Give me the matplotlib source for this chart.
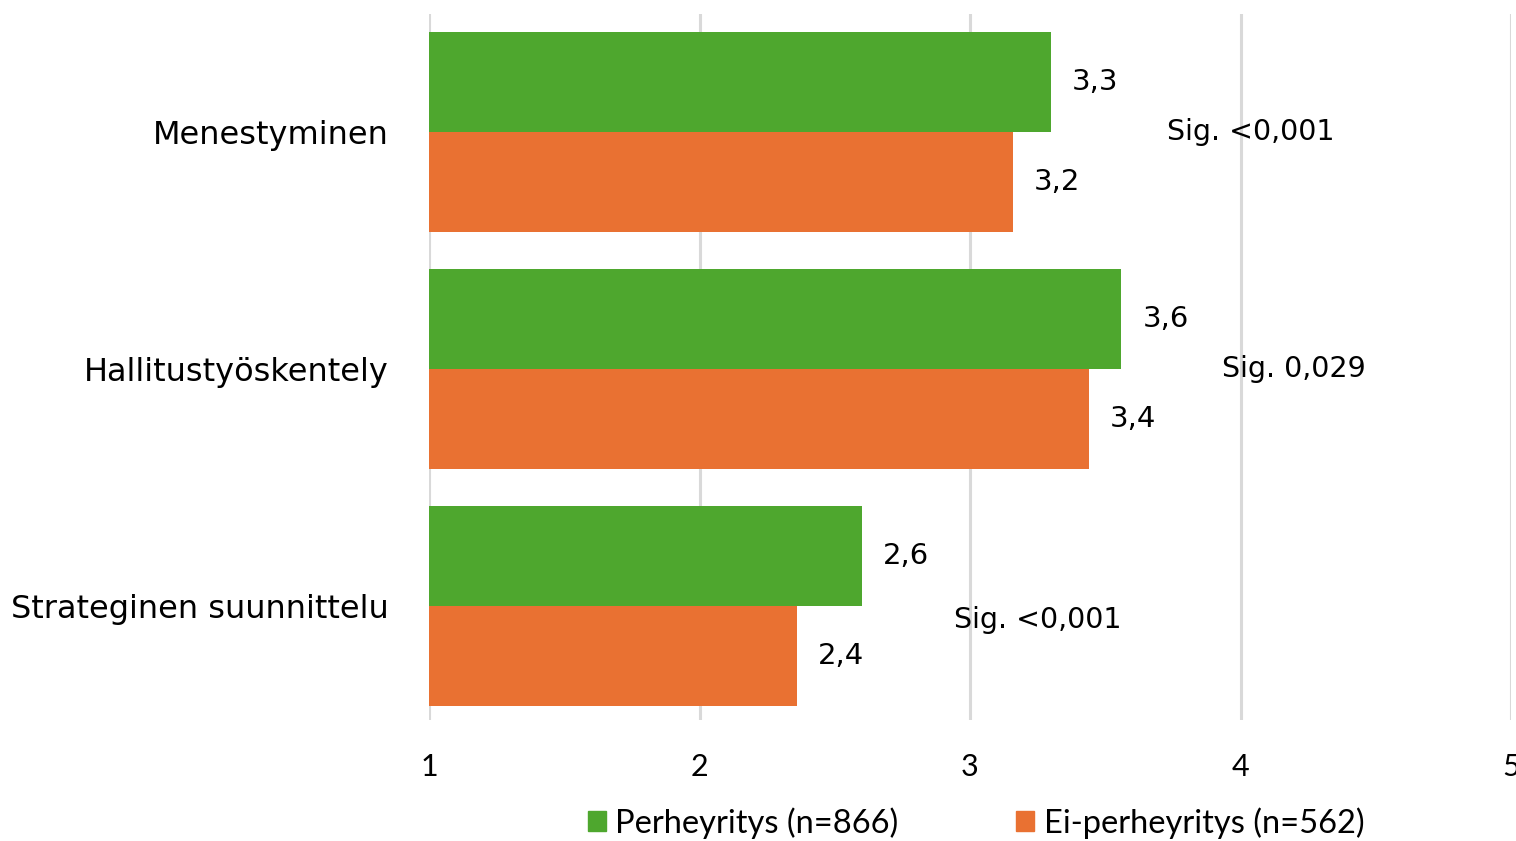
import matplotlib.pyplot as plt
import numpy as np
from matplotlib.patches import Patch

categories = ['Menestyminen', 'Hallitustyöskentely', 'Strateginen suunnittelu']
perhe = [3.30, 3.56, 2.60]
ei_perhe = [3.16, 3.44, 2.36]
sig_labels = ['Sig. <0,001', 'Sig. 0,029', 'Sig. <0,001']
sig_x = [3.73, 3.93, 2.94]
sig_y = [0.0, 0.0, 0.06]
series_names = ['Perheyritys (n=866)', 'Ei-perheyritys (n=562)']
xticks = [1, 2, 3, 4, 5]

green = '#4ea72e'
orange = '#e97132'
grid_col = '#d9d9d9'

plt.rcParams['font.family'] = ['DejaVu Sans']
narrow = 'Lato'

fig = plt.figure(figsize=(15.16, 8.41), dpi=100)
ax = fig.add_axes([429 / 1516, 1 - 720 / 841, 1082 / 1516, 706 / 841])

y = np.arange(len(categories))
h = 100 / 237
ax.barh(y - h / 2, np.array(perhe) - 1, left=1, height=h, color=green)
ax.barh(y + h / 2, np.array(ei_perhe) - 1, left=1, height=h, color=orange)

for i in range(len(categories)):
    ax.annotate(f'{perhe[i]:.1f}'.replace('.', ','), (perhe[i], y[i] - h / 2),
                xytext=(15, 0), textcoords='offset points', va='center', fontsize=21)
    ax.annotate(f'{ei_perhe[i]:.1f}'.replace('.', ','), (ei_perhe[i], y[i] + h / 2),
                xytext=(15, 0), textcoords='offset points', va='center', fontsize=21)
    ax.text(sig_x[i], y[i] + sig_y[i], sig_labels[i], va='center', ha='left', fontsize=20.5)

ax.set_xlim(1, 5)
ax.set_ylim(2.481, -0.498)
ax.set_xticks(xticks)
ax.set_xticklabels([str(t) for t in xticks], fontsize=22, family=narrow)
ax.set_yticks(y)
ax.set_yticklabels(categories, fontsize=23)
ax.tick_params(axis='both', length=0)
ax.tick_params(axis='x', pad=24)
ax.tick_params(axis='y', pad=29)
ax.grid(axis='x', color=grid_col, linewidth=2.2)
ax.set_axisbelow(True)
for s in ax.spines.values():
    s.set_visible(False)

handles = [Patch(color=green), Patch(color=orange)]
fig.legend(handles, series_names, loc='center', bbox_to_anchor=(976 / 1516, 1 - 823 / 841),
           ncol=2, frameon=False, prop={'family': narrow, 'size': 23.5},
           handlelength=0.55, handleheight=0.55, handletextpad=0.3, columnspacing=3.6)

fig.savefig('out.png', dpi=100)
